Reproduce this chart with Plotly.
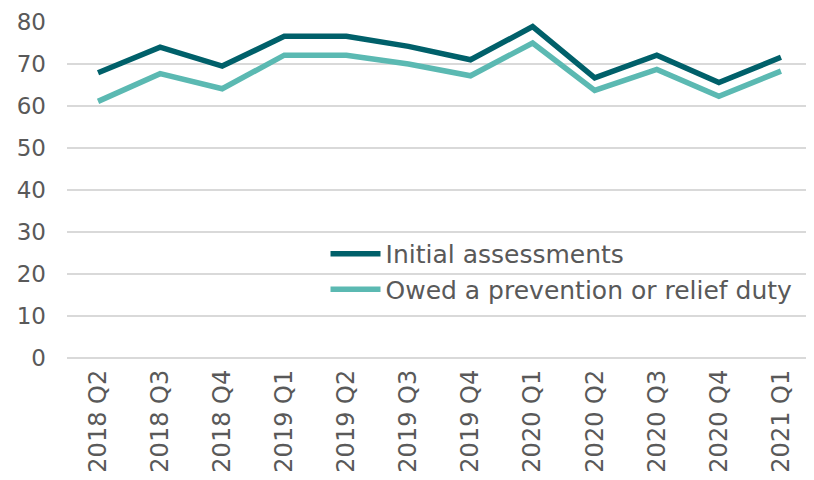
import plotly.graph_objects as go

quarters = ["2018 Q2", "2018 Q3", "2018 Q4", "2019 Q1", "2019 Q2", "2019 Q3",
            "2019 Q4", "2020 Q1", "2020 Q2", "2020 Q3", "2020 Q4", "2021 Q1"]
initial_assessments = [67.9, 74.0, 69.5, 76.6, 76.6, 74.2, 71.0, 78.9, 66.7, 72.1, 65.6, 71.6]
owed_duty = [61.1, 67.7, 64.1, 72.1, 72.1, 70.0, 67.2, 75.0, 63.7, 68.7, 62.3, 68.3]
y_ticks = [0, 10, 20, 30, 40, 50, 60, 70, 80]

FONT = "'DejaVu Sans', sans-serif"
GREY = "#595959"

fig = go.Figure()
fig.add_trace(go.Scatter(x=quarters, y=initial_assessments, mode="lines",
                         name="Initial assessments", legendgroup="a",
                         line=dict(color="#00606A", width=5.5)))
fig.add_trace(go.Scatter(x=quarters, y=owed_duty, mode="lines",
                         name="Owed a prevention or relief duty", legendgroup="b",
                         line=dict(color="#5BB9B2", width=5.5)))

# white legend background patch (hides the gridline behind the legend only)
fig.add_shape(type="rect", xref="paper", yref="paper",
              x0=0.3235, x1=1.0, y0=0.13, y1=0.36, layer="between",
              fillcolor="white", line=dict(width=0))

fig.update_layout(
    width=806, height=472,
    margin=dict(l=59, r=2, t=14, b=122, autoexpand=False),
    paper_bgcolor="white", plot_bgcolor="white",
    font=dict(family=FONT, color=GREY, size=20),
    showlegend=True,
    legend=dict(x=0.347, y=0.378, xanchor="left", yanchor="top",
                bgcolor="rgba(0,0,0,0)", font=dict(size=25, color=GREY),
                tracegroupgap=0, itemwidth=50),
    xaxis=dict(type="category", range=[-0.5, 11.5], tickangle=-90, showgrid=False,
               ticks="", showline=False, automargin=False, ticklabelstandoff=6,
               tickfont=dict(size=24, color=GREY)),
    yaxis=dict(range=[0, 80], tickvals=y_ticks, showgrid=True, automargin=False,
               gridcolor="#d9d9d9", gridwidth=1.5, zeroline=True,
               zerolinecolor="#d9d9d9", zerolinewidth=1.5, showline=False,
               ticks="", tickfont=dict(size=23, color=GREY), ticklabelstandoff=20),
)

fig.write_html("out.html")
